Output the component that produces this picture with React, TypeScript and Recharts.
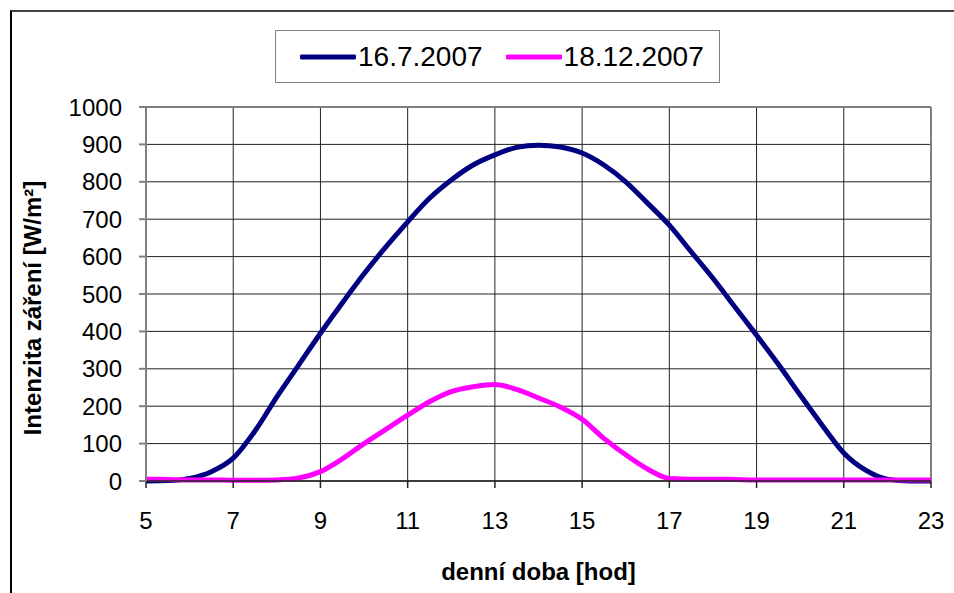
import { LineChart, Line, XAxis, YAxis, CartesianGrid, Legend, ReferenceLine } from 'recharts';

// readings every half hour
const hours = [
  5, 5.5, 6, 6.5, 7, 7.5, 8, 8.5, 9, 9.5, 10, 10.5, 11, 11.5, 12, 12.5, 13, 13.5, 14,
  14.5, 15, 15.5, 16, 16.5, 17, 17.5, 18, 18.5, 19, 19.5, 20, 20.5, 21, 21.5, 22, 22.5, 23,
];
const july = [
  0, 1, 7, 25, 61, 134, 225, 310, 395, 476, 554, 626, 693, 756, 805, 845, 872, 892, 898,
  893, 877, 845, 800, 743, 684, 613, 542, 466, 390, 312, 230, 150, 75, 29, 5, 0, 0,
];
const december = [
  5, 4, 3, 3, 2, 2, 3, 8, 25, 59, 100, 138, 176, 212, 239, 252, 258, 245, 222,
  198, 165, 114, 70, 32, 7, 5, 5, 4, 3, 3, 3, 3, 3, 3, 3, 3, 3,
];
const xTicks = [5, 7, 9, 11, 13, 15, 17, 19, 21, 23];
const yTicks = [0, 100, 200, 300, 400, 500, 600, 700, 800, 900, 1000];

const data = hours.map((h, i) => ({ hour: h, july: july[i], december: december[i] }));

const FONT = 'Arial, "Liberation Sans", Helvetica, sans-serif';

function LegendBox(props: any) {
  const items = props.payload || [];
  return (
    <div
      style={{
        display: 'flex',
        alignItems: 'center',
        border: '1px solid #808080',
        background: '#fff',
        width: 445,
        height: 53,
        boxSizing: 'border-box',
        paddingLeft: 24,
        fontFamily: FONT,
        fontSize: 28,
        color: '#000',
      }}
    >
      {items.map((it: any, i: number) => (
        <div key={i} style={{ display: 'flex', alignItems: 'center', marginRight: i === 0 ? 23 : 0 }}>
          <svg width={56} height={10} style={{ marginRight: 2 }}>
            <line x1={2} y1={5} x2={54} y2={5} stroke={it.color} strokeWidth={5} strokeLinecap="round" />
          </svg>
          <span>{it.value}</span>
        </div>
      ))}
    </div>
  );
}

function YTitle(props: any) {
  const vb = props.viewBox || { x: 0, y: 107, height: 374 };
  const cx = 32;
  const cy = vb.y + vb.height / 2 + 14;
  return (
    <text
      x={cx}
      y={cy}
      transform={`rotate(-90 ${cx} ${cy})`}
      textAnchor="middle"
      dominantBaseline="central"
      fontFamily={FONT}
      fontSize={24}
      fontWeight="bold"
      fill="#000"
    >
      Intenzita záření [W/m²]
    </text>
  );
}

export default function App() {
  return (
    <div style={{ position: 'absolute', left: 0, top: 0, width: 954, height: 593, background: '#fff', overflow: 'hidden' }}>
      <div
        style={{
          position: 'absolute',
          left: 10,
          top: 10,
          width: 960,
          height: 600,
          borderLeft: '2px solid #000',
          borderTop: '2px solid #444',
        }}
      />
      <LineChart
        width={954}
        height={593}
        data={data}
        margin={{ top: 54, right: 23, bottom: 0, left: 0 }}
        style={{ position: 'absolute', left: 0, top: 0 }}
      >
        <CartesianGrid stroke="#222" strokeWidth={1} />
        <XAxis
          dataKey="hour"
          type="number"
          domain={[5, 23]}
          ticks={xTicks}
          height={112}
          tickSize={7}
          tickMargin={24}
          stroke="#222"
          strokeWidth={1.5}
          tick={{ fill: '#000', fontSize: 24, fontFamily: FONT }}
          label={{
            value: 'denní doba [hod]',
            position: 'insideBottom',
            offset: 13,
            fill: '#000',
            fontSize: 24,
            fontWeight: 'bold',
            fontFamily: FONT,
          }}
        />
        <YAxis
          type="number"
          domain={[0, 1000]}
          ticks={yTicks}
          width={146}
          tickSize={7}
          tickMargin={17}
          stroke="#808080"
          strokeWidth={2}
          interval={0}
          tick={{ fill: '#000', fontSize: 24, fontFamily: FONT }}
          label={{ content: YTitle }}
        />
        <ReferenceLine y={1000} stroke="#808080" strokeWidth={2} />
        <ReferenceLine x={23} stroke="#808080" strokeWidth={2} />
        <Legend
          verticalAlign="top"
          content={LegendBox}
          wrapperStyle={{ position: 'absolute', top: 30, left: 275, width: 445 }}
        />
        <Line
          type="monotone"
          dataKey="july"
          name="16.7.2007"
          stroke="#000080"
          strokeWidth={5}
          dot={false}
          isAnimationActive={false}
        />
        <Line
          type="monotone"
          dataKey="december"
          name="18.12.2007"
          stroke="#FF00FF"
          strokeWidth={5}
          dot={false}
          isAnimationActive={false}
        />
      </LineChart>
    </div>
  );
}
